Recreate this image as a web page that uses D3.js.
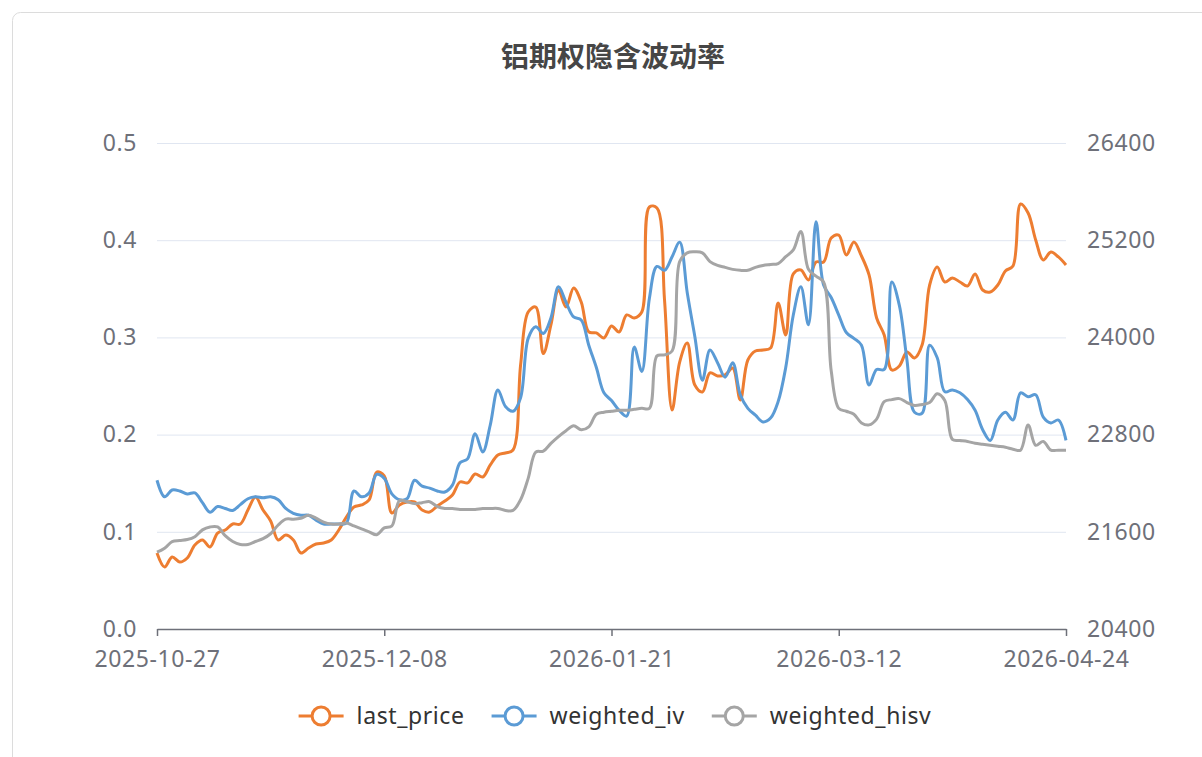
<!DOCTYPE html>
<html>
<head>
<meta charset="utf-8">
<script src="https://cdn.jsdelivr.net/npm/d3@7"></script>
<style>
  html, body { margin: 0; padding: 0; background: #fff; }
  svg { display: block; }
</style>
</head>
<body>
<svg id="chart" width="1202" height="757"></svg>
<script>
// Trading days shown on the category axis.
const dates = [
  '2025-10-27','2025-10-28','2025-10-29','2025-10-30','2025-10-31',
  '2025-11-03','2025-11-04','2025-11-05','2025-11-06','2025-11-07',
  '2025-11-10','2025-11-11','2025-11-12','2025-11-13','2025-11-14',
  '2025-11-17','2025-11-18','2025-11-19','2025-11-20','2025-11-21',
  '2025-11-24','2025-11-25','2025-11-26','2025-11-27','2025-11-28',
  '2025-12-01','2025-12-02','2025-12-03','2025-12-04','2025-12-05',
  '2025-12-08','2025-12-09','2025-12-10','2025-12-11','2025-12-12',
  '2025-12-15','2025-12-16','2025-12-17','2025-12-18','2025-12-19',
  '2025-12-22','2025-12-23','2025-12-24','2025-12-25','2025-12-26',
  '2025-12-29','2025-12-30','2025-12-31',
  '2026-01-05','2026-01-06','2026-01-07','2026-01-08','2026-01-09',
  '2026-01-12','2026-01-13','2026-01-14','2026-01-15','2026-01-16',
  '2026-01-19','2026-01-20','2026-01-21','2026-01-22','2026-01-23',
  '2026-01-26','2026-01-27','2026-01-28','2026-01-29','2026-01-30',
  '2026-02-02','2026-02-03','2026-02-04','2026-02-05','2026-02-06',
  '2026-02-09','2026-02-10','2026-02-11','2026-02-12','2026-02-13',
  '2026-02-24','2026-02-25','2026-02-26','2026-02-27',
  '2026-03-02','2026-03-03','2026-03-04','2026-03-05','2026-03-06',
  '2026-03-09','2026-03-10','2026-03-11','2026-03-12','2026-03-13',
  '2026-03-16','2026-03-17','2026-03-18','2026-03-19','2026-03-20',
  '2026-03-23','2026-03-24','2026-03-25','2026-03-26','2026-03-27',
  '2026-03-30','2026-03-31','2026-04-01','2026-04-02','2026-04-03',
  '2026-04-07','2026-04-08','2026-04-09','2026-04-10',
  '2026-04-13','2026-04-14','2026-04-15','2026-04-16','2026-04-17',
  '2026-04-20','2026-04-21','2026-04-22','2026-04-23','2026-04-24'
];

// Right axis series.
const last_price = [
  21338,21165,21289,21227,21277,21437,21499,21412,21585,21622,21696,21696,21869,22030,21869,21733,21499,21560,21499,21338,21400,21449,21462,21499,21622,
  21783,21906,21931,21993,22338,22289,21832,21931,21968,21968,21869,21844,21918,21980,22054,22215,22203,22314,22277,22425,22548,22573,22610,23659,24314,
  24375,23800,24153,24585,24375,24610,24437,24067,24055,23993,24141,24067,24277,24240,24314,25610,25598,24462,23104,23696,23931,23412,
  23326,23561,23524,23536,23622,23227,23721,23832,23844,23869,24425,24030,24783,24832,24709,24931,24931,25227,25264,25017,25178,25005,24771,24240,
  24030,23598,23647,23820,23746,23906,24647,24869,24684,24733,24684,24634,24783,24585,24560,24647,24820,24882,25647,25536,25203,24956,25054,24993,24894
];

// Left axis series.
const weighted_iv = [
  0.153,0.136,0.143,0.142,0.139,0.140,0.130,0.120,0.126,0.124,0.122,0.128,0.134,0.136,0.135,0.136,0.133,0.124,0.119,0.117,0.117,0.112,0.108,0.108,0.108,
  0.109,0.142,0.136,0.140,0.159,0.155,0.139,0.133,0.134,0.153,0.147,0.145,0.142,0.141,0.148,0.171,0.175,0.201,0.182,0.210,0.246,0.229,0.224,0.238,0.299,
  0.311,0.304,0.320,0.352,0.336,0.321,0.318,0.292,0.269,0.243,0.235,0.225,0.219,0.290,0.265,0.340,0.373,0.369,0.383,0.398,0.346,0.301,
  0.256,0.287,0.274,0.259,0.274,0.241,0.227,0.220,0.213,0.217,0.234,0.269,0.323,0.352,0.313,0.419,0.354,0.341,0.323,0.305,0.299,0.292,0.251,0.267,
  0.267,0.357,0.333,0.277,0.223,0.222,0.292,0.279,0.244,0.246,0.243,0.236,0.225,0.205,0.194,0.215,0.223,0.215,0.243,0.239,0.241,0.218,0.212,0.215,0.194
];

const weighted_hisv = [
  0.079,0.083,0.090,0.091,0.092,0.095,0.102,0.105,0.105,0.096,0.090,0.087,0.087,0.090,0.093,0.098,0.107,0.113,0.113,0.114,0.117,0.114,0.110,0.108,0.108,
  0.109,0.106,0.103,0.100,0.097,0.104,0.106,0.132,0.131,0.129,0.130,0.131,0.126,0.124,0.124,0.123,0.123,0.123,0.124,0.124,0.124,0.122,0.122,0.133,0.155,
  0.182,0.183,0.191,0.198,0.204,0.209,0.205,0.208,0.221,0.223,0.224,0.225,0.225,0.226,0.227,0.227,0.281,0.282,0.286,0.378,0.387,0.388,
  0.387,0.378,0.374,0.372,0.370,0.369,0.369,0.372,0.374,0.375,0.376,0.383,0.390,0.409,0.370,0.363,0.357,0.266,0.227,0.224,0.221,0.212,0.210,0.216,
  0.234,0.236,0.237,0.233,0.230,0.231,0.233,0.242,0.235,0.195,0.194,0.193,0.191,0.190,0.189,0.188,0.187,0.185,0.184,0.210,0.189,0.193,0.184,0.184,0.184
];

const left_ticks = [0, 0.1, 0.2, 0.3, 0.4, 0.5];
const right_ticks = [20400, 21600, 22800, 24000, 25200, 26400];
const x_label_step = 30;

const series = [
  { name: 'last_price', values: last_price, color: '#ED7D31', axis: 'right' },
  { name: 'weighted_iv', values: weighted_iv, color: '#5B9BD5', axis: 'left' },
  { name: 'weighted_hisv', values: weighted_hisv, color: '#A5A5A5', axis: 'left' }
];

const settings = {
  plot_left: 157, plot_right: 1066, plot_top: 143, plot_bottom: 629,
  label_color: '#6E7079', grid_color: '#E0E6F1',
  font: '"Noto Sans", "Noto Sans CJK SC", sans-serif',
  label_size: 23, label_spacing: 0.6
};

const svg = d3.select('#chart');

// Card frame round the chart.
svg.append('rect')
  .attr('x', 12.5).attr('y', 12.5)
  .attr('width', 1220).attr('height', 780)
  .attr('rx', 8)
  .attr('fill', '#fff')
  .attr('stroke', '#dcdcdc');

// Title.
svg.append('text')
  .attr('x', 613).attr('y', 67)
  .attr('text-anchor', 'middle')
  .attr('font-family', '"Noto Sans CJK SC", sans-serif')
  .attr('font-weight', 'bold')
  .attr('font-size', 28)
  .attr('fill', '#464646')
  .text('铝期权隐含波动率');

// Scales.
const x_scale = d3.scalePoint()
  .domain(d3.range(dates.length))
  .range([settings.plot_left, settings.plot_right]);

const y_left = d3.scaleLinear()
  .domain([0, 0.5])
  .range([settings.plot_bottom, settings.plot_top]);

const y_right = d3.scaleLinear()
  .domain([20400, 26400])
  .range([settings.plot_bottom, settings.plot_top]);

function style_labels(sel){
  sel.attr('fill', settings.label_color)
    .attr('font-size', settings.label_size)
    .attr('letter-spacing', settings.label_spacing)
    .attr('font-family', settings.font);
}

// Grid lines and left axis labels.
const left_axis = svg.append('g')
  .attr('transform', 'translate(' + settings.plot_left + ',0)')
  .call(d3.axisLeft(y_left)
    .tickValues(left_ticks)
    .tickSize(-(settings.plot_right - settings.plot_left))
    .tickPadding(20)
    .tickFormat(d3.format('.1f')));
left_axis.select('.domain').remove();
left_axis.selectAll('.tick line').attr('stroke', settings.grid_color);
style_labels(left_axis.selectAll('.tick text'));

// Right axis labels.
const right_axis = svg.append('g')
  .attr('transform', 'translate(' + settings.plot_right + ',0)')
  .call(d3.axisRight(y_right)
    .tickValues(right_ticks)
    .tickSize(0)
    .tickPadding(21)
    .tickFormat(d3.format('d')));
right_axis.select('.domain').remove();
style_labels(right_axis.selectAll('.tick text'));

// X axis: only every 30th trading day gets a tick and label.
const x_axis = svg.append('g')
  .attr('transform', 'translate(0,' + settings.plot_bottom + ')')
  .call(d3.axisBottom(x_scale)
    .tickValues(d3.range(0, dates.length, x_label_step))
    .tickSize(7)
    .tickSizeOuter(0)
    .tickPadding(15)
    .tickFormat(i => dates[i]));
x_axis.select('.domain').attr('stroke', settings.label_color).attr('stroke-width', 1.5);
x_axis.selectAll('.tick line').attr('stroke', settings.label_color).attr('stroke-width', 1.5);
style_labels(x_axis.selectAll('.tick text'));

// Lines.
series.forEach(function(s){
  const y_scale = s.axis === 'right' ? y_right : y_left;
  const line = d3.line()
    .x((d, i) => x_scale(i))
    .y(d => y_scale(d))
    .curve(d3.curveCatmullRom.alpha(0.5));
  svg.append('path')
    .datum(s.values)
    .attr('fill', 'none')
    .attr('stroke', s.color)
    .attr('stroke-width', 3)
    .attr('stroke-linejoin', 'round')
    .attr('d', line);
});

// Legend, centred under the plot.
const legend = svg.append('g');
let cursor = 0;
series.forEach(function(s){
  const item = legend.append('g').attr('transform', 'translate(' + cursor + ',0)');
  item.append('line')
    .attr('x1', 0).attr('x2', 45)
    .attr('stroke', s.color).attr('stroke-width', 3);
  item.append('circle')
    .attr('cx', 22.5).attr('r', 9)
    .attr('fill', '#fff')
    .attr('stroke', s.color).attr('stroke-width', 3);
  const label = item.append('text')
    .attr('x', 58).attr('dy', '0.35em')
    .attr('fill', '#333')
    .attr('font-size', 23)
    .attr('letter-spacing', 0.6)
    .attr('font-family', settings.font)
    .text(s.name);
  cursor += 58 + label.node().getComputedTextLength() + 27;
});
const legend_width = cursor - 27;
legend.attr('transform', 'translate(' + (615 - legend_width / 2) + ',716)');
</script>
</body>
</html>
